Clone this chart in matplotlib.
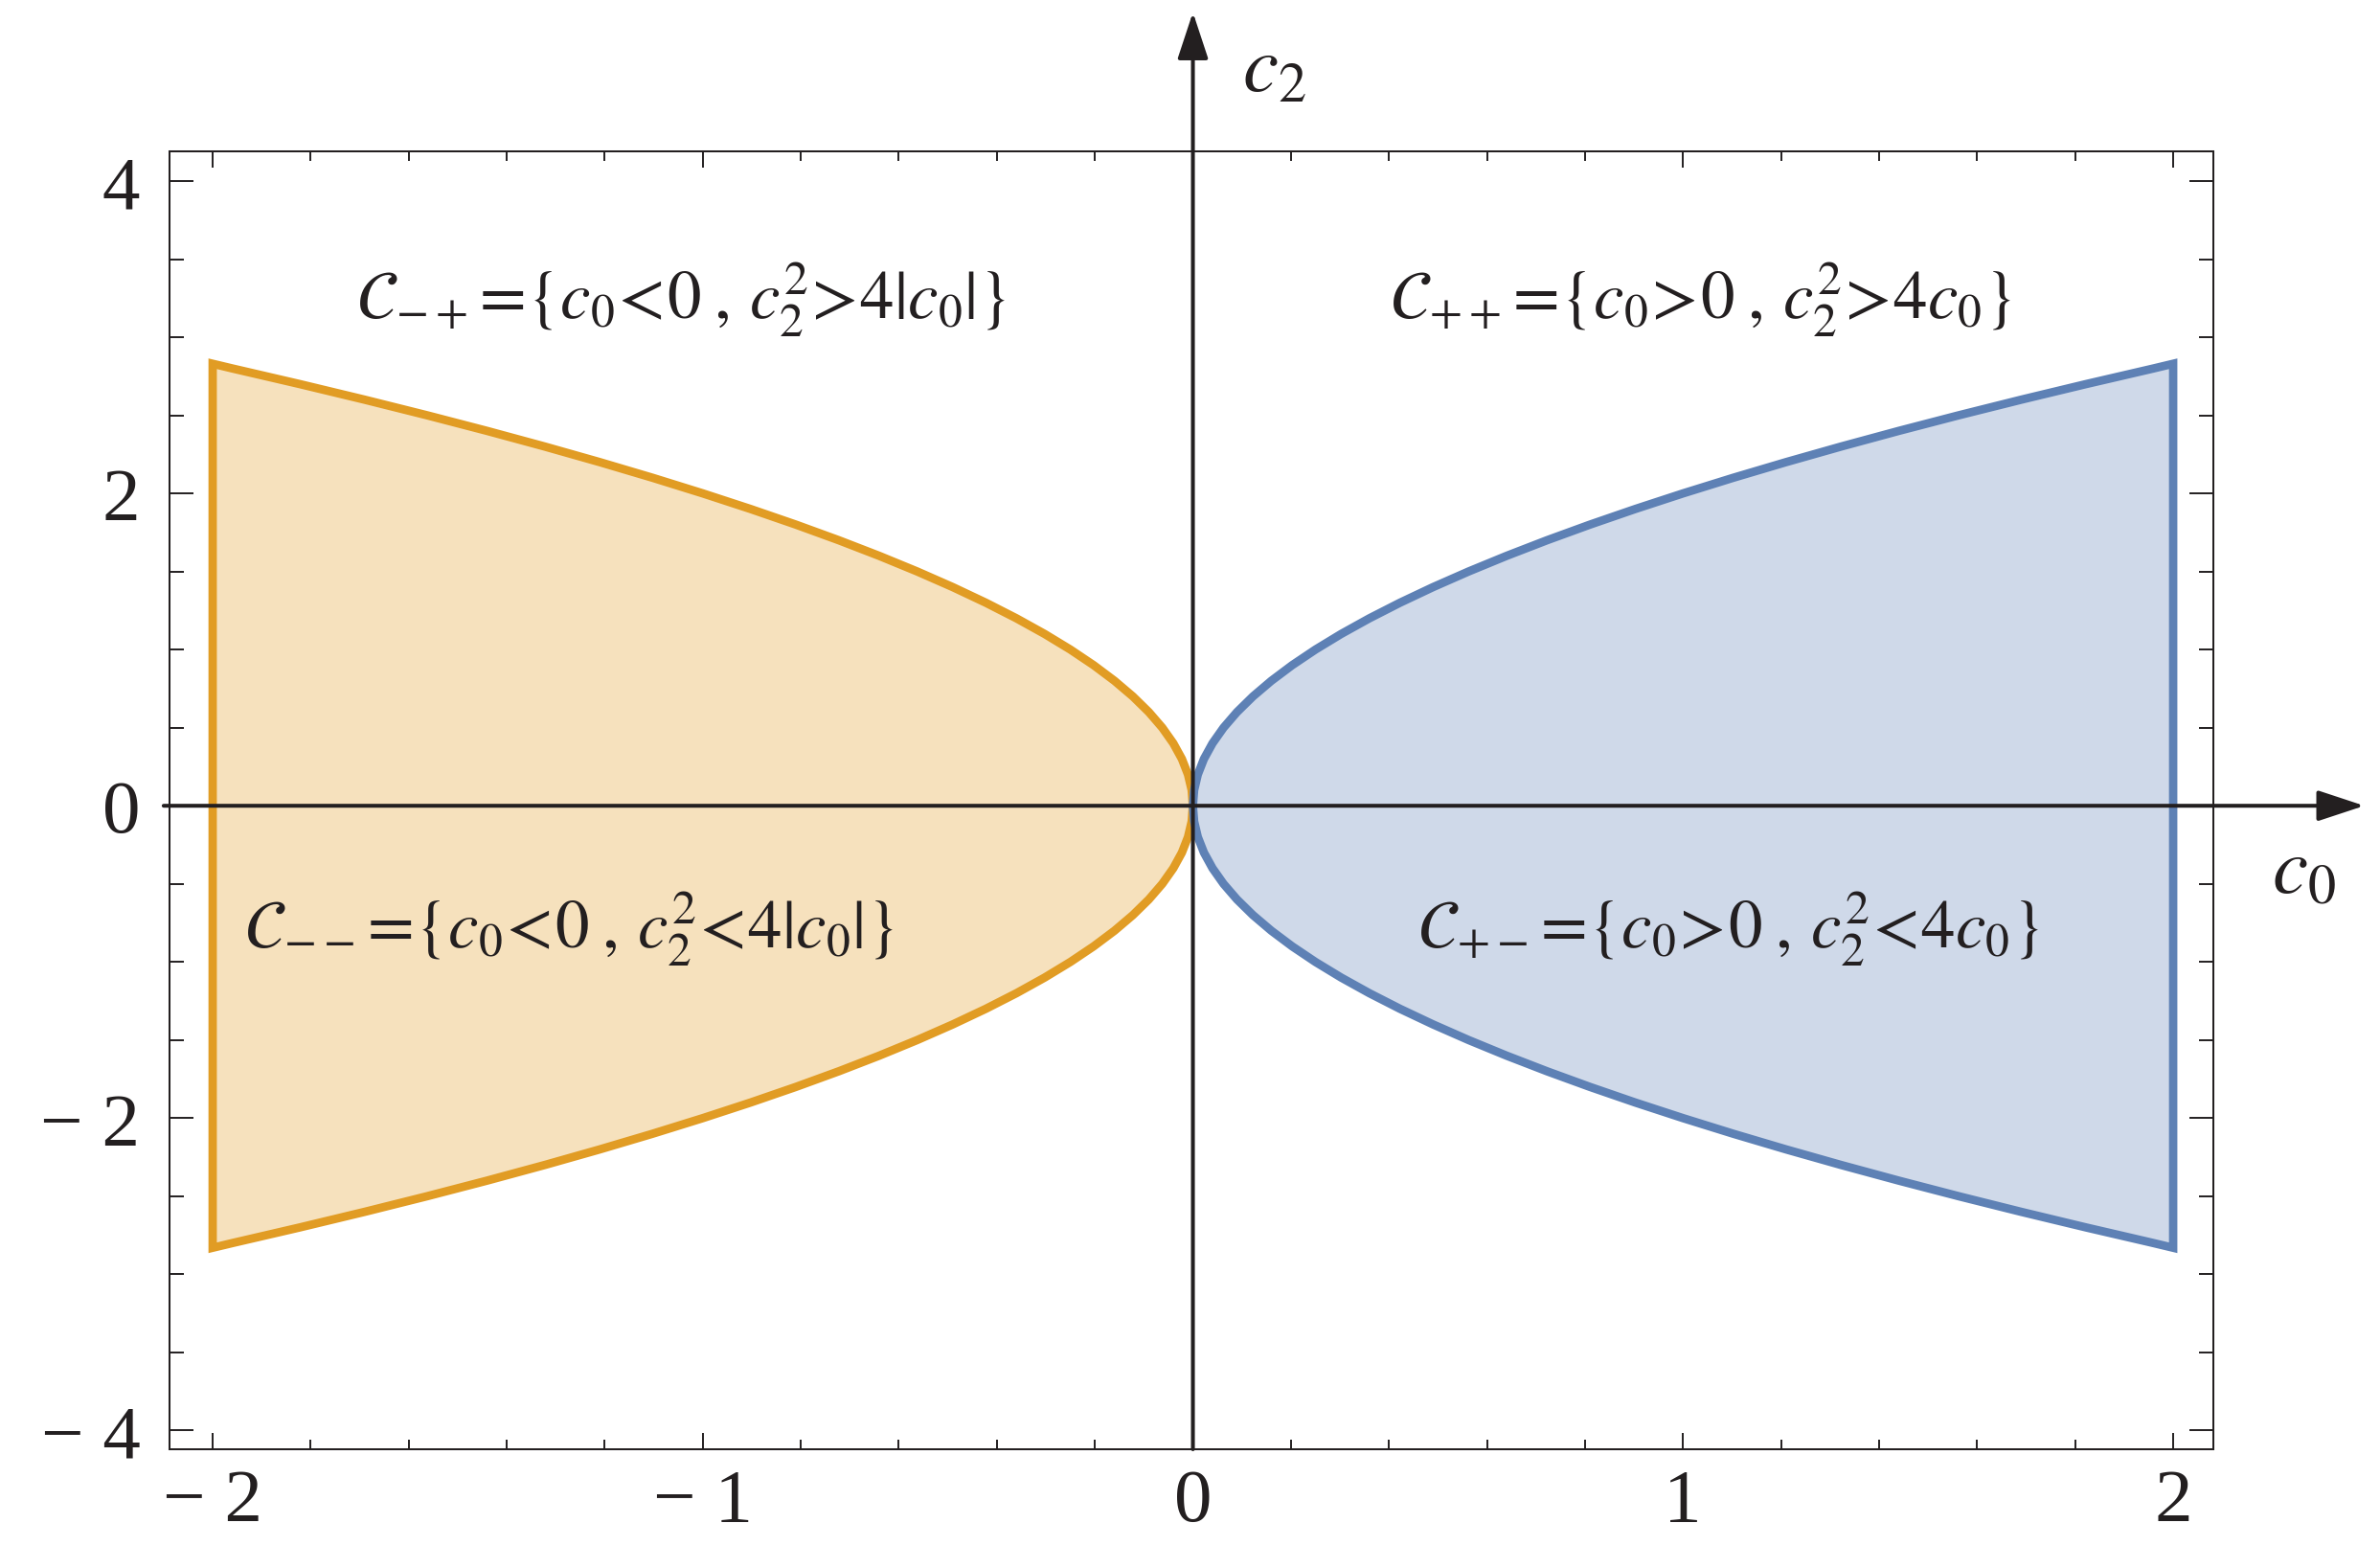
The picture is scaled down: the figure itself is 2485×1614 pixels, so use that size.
import numpy as np
import matplotlib.pyplot as plt
from matplotlib.ticker import MultipleLocator

plt.rcParams['mathtext.fontset'] = 'stix'
plt.rcParams['font.family'] = ['Liberation Serif', 'DejaVu Serif']

# upper boundary of the right region (c2 vs c0)
c0_pts = [0, 0.0025, 0.01, 0.0225, 0.04, 0.0625, 0.09, 0.1225, 0.16, 0.2025,
          0.25, 0.3025, 0.36, 0.4225, 0.49, 0.5625, 0.64, 0.7225, 0.81, 0.9025,
          1.0, 1.1025, 1.21, 1.3225, 1.44, 1.5625, 1.69, 1.8225, 1.96, 2.0]
c2_pts = [0, 0.1, 0.2, 0.3, 0.4, 0.5, 0.6, 0.7, 0.8, 0.9,
          1.0, 1.1, 1.2, 1.3, 1.4, 1.5, 1.6, 1.7, 1.8, 1.9,
          2.0, 2.1, 2.2, 2.3, 2.4, 2.5, 2.6, 2.7, 2.8, 2.83]

x_ticks = [-2, -1, 0, 1, 2]
x_ticklabels = ["\u2212 2", "\u2212 1", "0", "1", "2"]
y_ticks = [-4, -2, 0, 2, 4]
y_ticklabels = ["\u2212 4", "\u2212 2", "0", "2", "4"]

region_labels = [
    r"$\mathcal{C}_{-+}\!=\!\{c_0\!<\!0\;,\,c_2^2\!>\!4|c_0|\}$",
    r"$\mathcal{C}_{++}\!=\!\{c_0\!>\!0\;,\,c_2^2\!>\!4c_0\}$",
    r"$\mathcal{C}_{--}\!=\!\{c_0\!<\!0\;,\,c_2^2\!<\!4|c_0|\}$",
    r"$\mathcal{C}_{+-}\!=\!\{c_0\!>\!0\;,\,c_2^2\!<\!4c_0\}$",
]
label_pos = [(-1.045, 3.25), (1.037, 3.25), (-1.274, -0.78), (1.092, -0.78)]

ORANGE_EDGE, ORANGE_FILL = '#E19C24', '#F6E1BD'
BLUE_EDGE, BLUE_FILL = '#5E81B5', '#CFD9E9'
INK = '#231F20'

fig = plt.figure(figsize=(24.85, 16.15), dpi=100)
ax = fig.add_axes([0.07123, 0.06254, 0.85875, 0.83901])

# closed outline: upper branch out, vertical cut, lower branch back
xs = list(c0_pts) + list(c0_pts[::-1])
ys = list(c2_pts) + [-v for v in c2_pts[::-1]]

ax.fill([-v for v in xs], ys, facecolor=ORANGE_FILL, edgecolor=ORANGE_EDGE,
        lw=6.3, joinstyle='miter', zorder=1)
ax.fill(xs, ys, facecolor=BLUE_FILL, edgecolor=BLUE_EDGE,
        lw=6.3, joinstyle='miter', zorder=1)

ax.set_xlim(-2.088, 2.082)
ax.set_ylim(-4.12, 4.19)

# axes with arrows
arrow = dict(arrowstyle='-|>,head_length=1.0,head_width=0.33', mutation_scale=30,
             lw=2.9, color=INK, shrinkA=0, shrinkB=0)
ax.annotate('', xy=(2.39, 0), xytext=(-2.1, 0), arrowprops=arrow,
            annotation_clip=False, zorder=3)
ax.annotate('', xy=(0, 5.08), xytext=(0, -4.12), arrowprops=arrow,
            annotation_clip=False, zorder=3)
ax.text(2.266, -0.43, r'$c_0$', fontsize=60, ha='center', va='center', color=INK)
ax.text(0.165, 4.70, r'$c_2$', fontsize=60, ha='center', va='center', color=INK)

for txt, (px, py) in zip(region_labels, label_pos):
    ax.text(px, py, txt, fontsize=51, ha='center', va='center', color=INK, zorder=4)

# frame ticks
ax.set_xticks(x_ticks)
ax.set_xticklabels(x_ticklabels)
ax.set_yticks(y_ticks)
ax.set_yticklabels(y_ticklabels)
ax.xaxis.set_minor_locator(MultipleLocator(0.2))
ax.yaxis.set_minor_locator(MultipleLocator(0.5))
ax.tick_params(which='both', direction='in', top=True, right=True,
               width=1.4, color=INK, labelcolor=INK, labelsize=57)
ax.tick_params(axis='x', which='major', length=12, pad=14)
ax.tick_params(axis='x', which='minor', length=7)
ax.tick_params(axis='y', which='major', length=18, pad=22)
ax.tick_params(axis='y', which='minor', length=11)
for s in ax.spines.values():
    s.set_linewidth(1.45)
    s.set_color(INK)

fig.savefig('out.png', dpi=100)
